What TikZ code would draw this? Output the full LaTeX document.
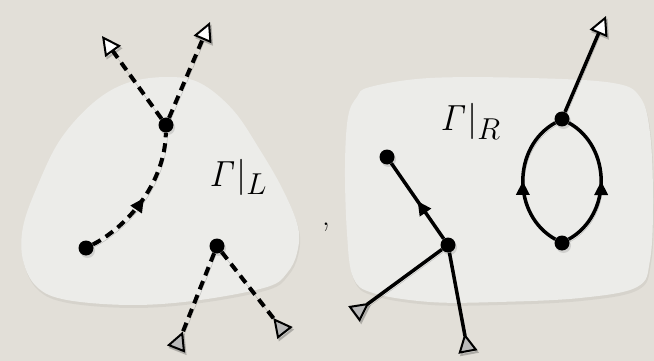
\documentclass[tikz,border=0pt]{standalone}
\usetikzlibrary{arrows.meta,decorations.markings,shadows}
\definecolor{paper}{RGB}{226,223,216}
\definecolor{blobc}{RGB}{236,236,233}
\newcommand{\bigsub}[1]{\mbox{\scalebox{1.2}{$\scriptstyle #1$}}}
\tikzset{
  vtx/.style={circle,fill=black,inner sep=0pt,minimum size=15pt,drop shadow={opacity=0.25,shadow xshift=1.5pt,shadow yshift=-2.5pt}},
  shad/.style={preaction={draw=black,opacity=0.22,transform canvas={shift={(1.5pt,-2.5pt)}}}},
  solidedge/.style={line width=3.5pt,shad},
  dashedge/.style={line width=4pt,dash pattern=on 9pt off 6pt,shad},
  outtip/.style={-{Triangle[length=19pt,width=19pt,fill=white,line width=2pt]}},
  intip/.style={-{Triangle[reversed,length=19pt,width=19pt,fill=gray!55,line width=2pt]}},
  midarrow/.style={postaction={decorate},decoration={markings,mark=at position #1 with {\arrow{Triangle[length=14pt,width=13pt]}}}},
  lbl/.style={font=\huge,inner sep=0pt,anchor=base west},
  blob/.style={fill=blobc,preaction={fill=black,opacity=0.05,transform canvas={shift={(1pt,-3pt)}}}},
}
\begin{document}
\begin{tikzpicture}[x=1pt,y=-1pt]
\fill[paper] (0,0) rectangle (654,361);
\useasboundingbox (0,0) rectangle (654,361);
% blobs
\fill[blob] plot[smooth cycle,tension=0.6] coordinates {(127,83) (167,77) (200,83) (233,110) (260,150) (283,190) (298,227) (297,253) (287,273) (267,287) (200,300) (133,305) (67,300) (37,287) (23,260) (23,227) (37,187) (60,140) (93,103)};
\fill[blob] plot[smooth cycle,tension=0.6] coordinates {(370,87) (430,78) (530,78) (613,83) (640,97) (650,133) (653,200) (650,260) (637,287) (580,298) (497,302) (430,302) (373,293) (353,277) (347,233) (345,167) (348,117) (357,97)};
% left graph
\node[vtx] (A) at (166,125) {};
\node[vtx] (B) at (86,248) {};
\node[vtx] (C) at (217,246) {};
\coordinate (t1) at (102,36);
\coordinate (t2) at (210,22);
\coordinate (t3) at (176,349);
\coordinate (t4) at (285,333);
\draw[dashedge,midarrow=0.5] (B) .. controls (125,228) and (165,185) .. (A);
\draw[dashedge,outtip] (A) -- (t1);
\draw[dashedge,outtip] (A) -- (t2);
\draw[dashedge,intip] (C) -- (t3);
\draw[dashedge,intip] (C) -- (t4);
\node[lbl] (gl) at (209,186) {\scalebox{1.75}{$\mathit{\Gamma}|_{\bigsub{L}}$}};
\node[font=\huge,anchor=base,inner sep=0pt] (comma) at (326,225) {\scalebox{1.5}{,}};
% right graph
\node[vtx] (D) at (387,157) {};
\node[vtx] (E) at (448,245) {};
\node[vtx] (F) at (562,119) {};
\node[vtx] (G) at (562,243) {};
\coordinate (t5) at (606,16);
\coordinate (t6) at (354,314);
\coordinate (t7) at (468,352);
\draw[solidedge,midarrow=0.5] (E) -- (D);
\draw[solidedge,intip] (E) -- (t6);
\draw[solidedge,intip] (E) -- (t7);
\draw[solidedge,outtip] (F) -- (t5);
\draw[solidedge,midarrow=0.5] (G) .. controls (512,215) and (512,147) .. (F);
\draw[solidedge,midarrow=0.5] (G) .. controls (612,215) and (612,147) .. (F);
\node[lbl] (gr) at (440,131) {\scalebox{1.75}{$\mathit{\Gamma}|_{\bigsub{R}}$}};
\end{tikzpicture}
\end{document}
